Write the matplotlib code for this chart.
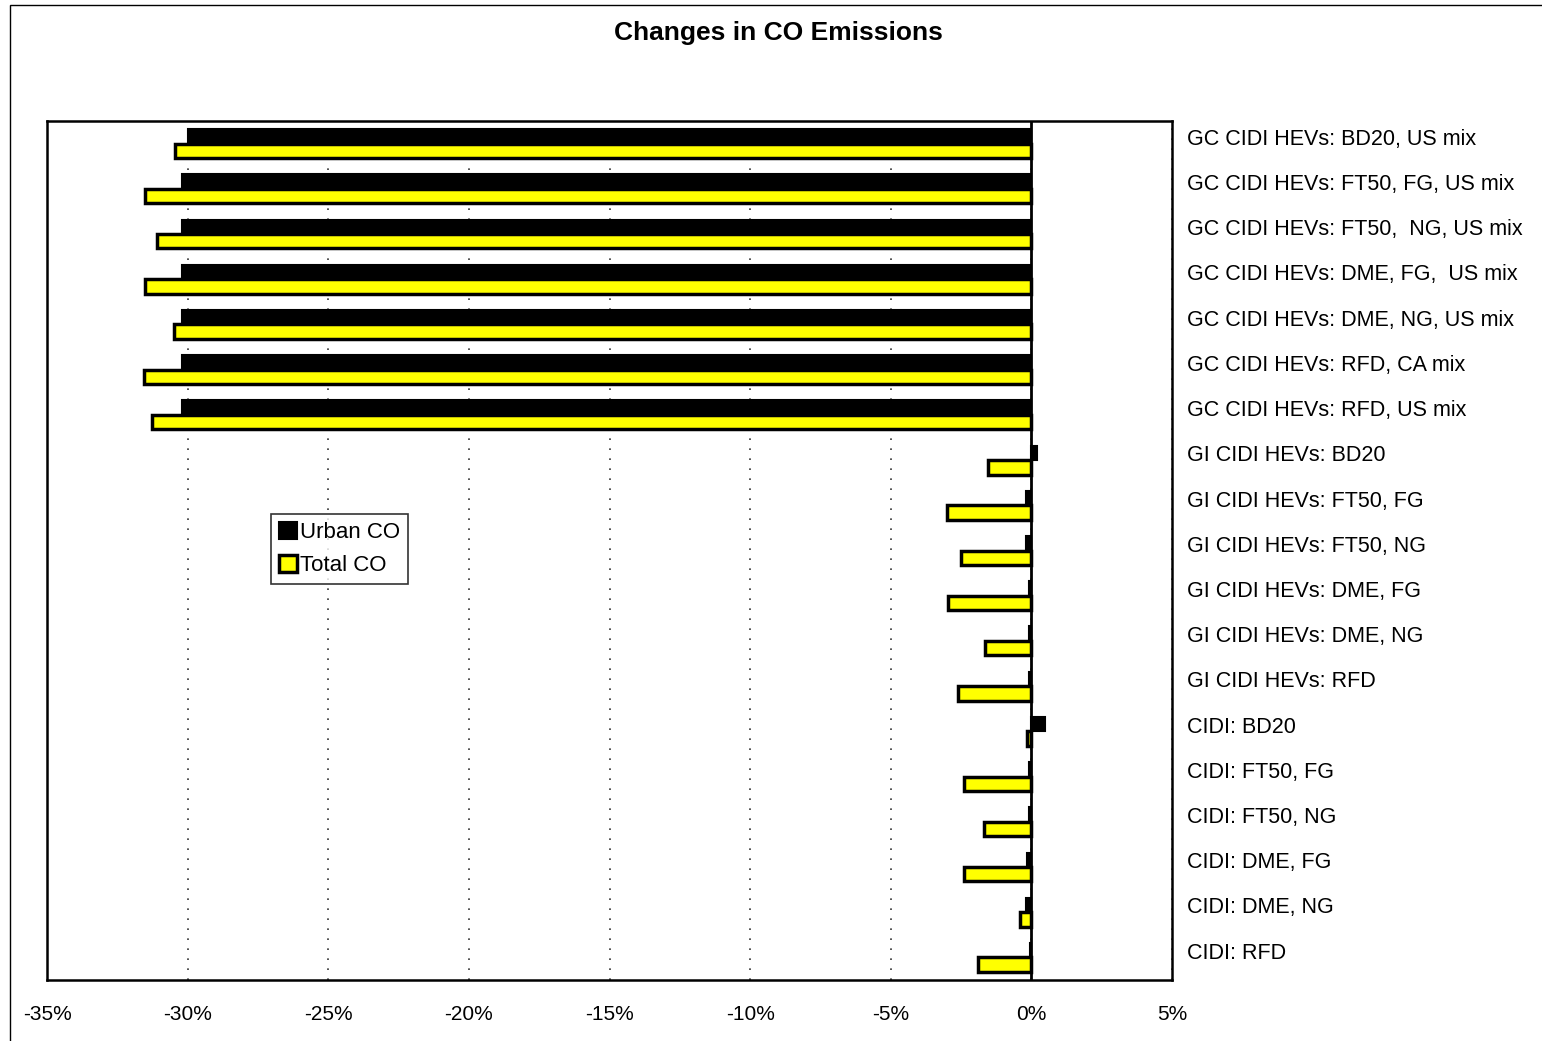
import matplotlib
matplotlib.use("Agg")
import matplotlib.pyplot as plt
import numpy as np
from matplotlib.patches import Rectangle

categories = [
    "GC CIDI HEVs: BD20, US mix",
    "GC CIDI HEVs: FT50, FG, US mix",
    "GC CIDI HEVs: FT50,  NG, US mix",
    "GC CIDI HEVs: DME, FG,  US mix",
    "GC CIDI HEVs: DME, NG, US mix",
    "GC CIDI HEVs: RFD, CA mix",
    "GC CIDI HEVs: RFD, US mix",
    "GI CIDI HEVs: BD20",
    "GI CIDI HEVs: FT50, FG",
    "GI CIDI HEVs: FT50, NG",
    "GI CIDI HEVs: DME, FG",
    "GI CIDI HEVs: DME, NG",
    "GI CIDI HEVs: RFD",
    "CIDI: BD20",
    "CIDI: FT50, FG",
    "CIDI: FT50, NG",
    "CIDI: DME, FG",
    "CIDI: DME, NG",
    "CIDI: RFD",
]

urban_co = [-30.0, -30.2, -30.2, -30.2, -30.2, -30.2, -30.2,
            0.2, -0.2, -0.2, -0.1, -0.1, -0.1,
            0.5, -0.1, -0.1, -0.15, -0.2, -0.05]
total_co = [-30.45, -31.5, -31.1, -31.5, -30.5, -31.55, -31.27,
            -1.55, -3.0, -2.5, -2.95, -1.65, -2.6,
            -0.17, -2.4, -1.7, -2.4, -0.4, -1.9]

x_ticks = [-35, -30, -25, -20, -15, -10, -5, 0, 5]
x_tick_labels = ["-35%", "-30%", "-25%", "-20%", "-15%", "-10%", "-5%", "0%", "5%"]

plt.rcParams['font.family'] = ['Liberation Sans', 'DejaVu Sans']

W, H = 1542, 1041
fig = plt.figure(figsize=(W / 100, H / 100), dpi=100)
ax = fig.add_axes([47 / W, 1 - 980 / H, (1172 - 47) / W, (980 - 121) / H])

n = len(categories)
y = np.arange(n)
bh = 0.32
ax.barh(y - bh / 2, urban_co, height=bh, color='black', edgecolor='black',
        linewidth=1.5, label='Urban CO', zorder=3)
ax.barh(y + bh / 2, total_co, height=bh, color='#ffff00', edgecolor='black',
        linewidth=2.5, label='Total CO', zorder=3)

ax.set_xlim(-35, 5)
ax.set_ylim(n - 0.5, -0.5)
ax.set_xticks(x_ticks)
ax.set_xticklabels(x_tick_labels, fontsize=15)
ax.tick_params(axis='x', length=0, pad=18)
ax.grid(axis='x', linestyle=(0, (1, 5)), color='#333333', linewidth=1.2, zorder=0)
ax.axvline(0, color='black', linewidth=2, zorder=4)

ax.yaxis.tick_right()
ax.set_yticks(y - 0.15)
ax.set_yticklabels(categories, fontsize=15.5)
ax.tick_params(axis='y', length=0, pad=11)

for s in ax.spines.values():
    s.set_linewidth(1.8)
    s.set_color('black')

leg = ax.legend(loc='upper left', bbox_to_anchor=((271 - 47) / 1125, (980 - 514) / 859),
                fontsize=16, frameon=True, fancybox=False, edgecolor='black',
                handlelength=0.8, handleheight=0.8, handletextpad=0.15,
                borderpad=0.35, labelspacing=0.55, borderaxespad=0)
leg.get_frame().set_linewidth(1.2)

fig.text(778 / W, 1 - 33 / H, "Changes in CO Emissions", ha='center', va='center',
         fontsize=19, fontweight='bold')

fig.add_artist(Rectangle((10 / W, -0.05), 1.2, 1 - 5 / H + 0.05, transform=fig.transFigure,
                         fill=False, edgecolor='black', linewidth=1))

fig.savefig("out.png", dpi=100)
